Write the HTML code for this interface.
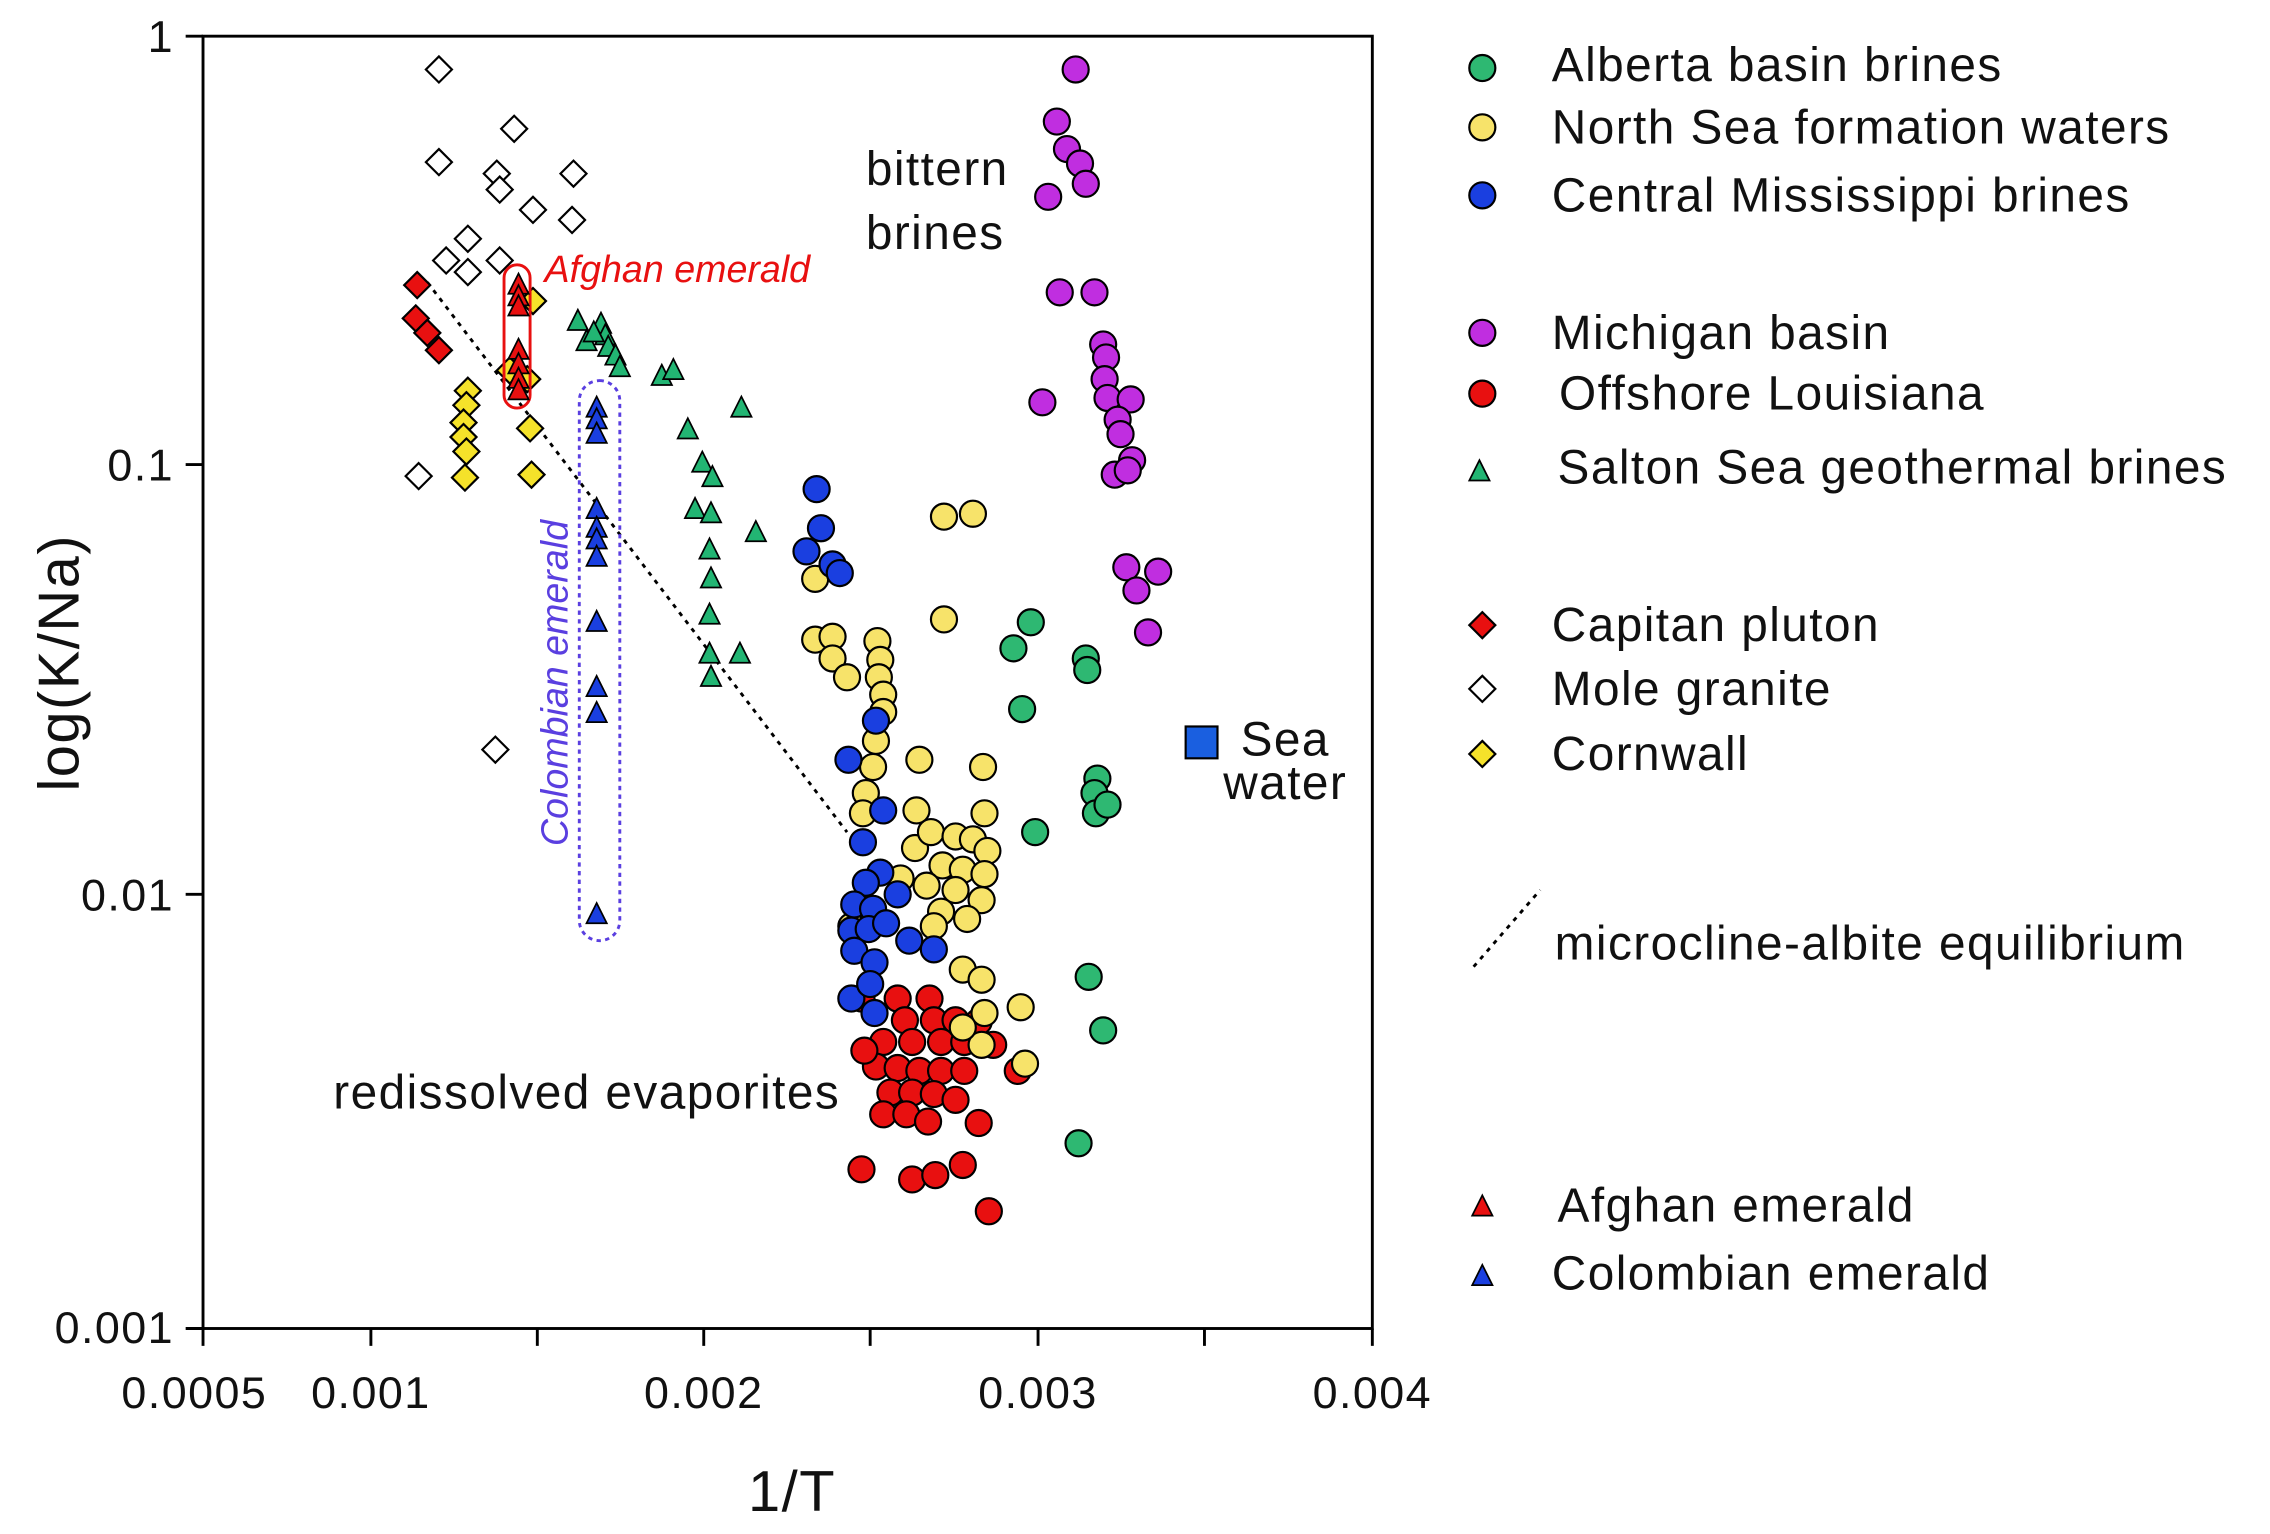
<!DOCTYPE html>
<html><head><meta charset="utf-8"><style>
html,body{margin:0;padding:0;background:#fff;}
svg{display:block;}
text{font-family:"Liberation Sans",sans-serif;fill:#111;letter-spacing:1px;}
</style></head><body>
<svg width="2270" height="1534" viewBox="0 0 1568 1060" xmlns="http://www.w3.org/2000/svg">
<defs>
<symbol id="c" overflow="visible"><circle r="9" stroke="#000" stroke-width="1.5"/></symbol>
</defs>
<rect x="140" y="25" width="808" height="893" fill="none" stroke="#000" stroke-width="2"/>
<g stroke="#000" stroke-width="2">
<line x1="140" y1="25" x2="128" y2="25"/><line x1="140" y1="321" x2="128" y2="321"/><line x1="140" y1="618" x2="128" y2="618"/><line x1="140" y1="918" x2="128" y2="918"/>
<line x1="140" y1="918" x2="140" y2="930"/><line x1="256" y1="918" x2="256" y2="930"/><line x1="371" y1="918" x2="371" y2="930"/><line x1="486" y1="918" x2="486" y2="930"/><line x1="601" y1="918" x2="601" y2="930"/><line x1="717" y1="918" x2="717" y2="930"/><line x1="832" y1="918" x2="832" y2="930"/><line x1="948" y1="918" x2="948" y2="930"/>
</g>
<g font-size="31" text-anchor="end">
<text x="120" y="36">1</text><text x="120" y="332">0.1</text><text x="120" y="629">0.01</text><text x="120" y="928">0.001</text>
</g>
<g font-size="31" text-anchor="middle">
<text x="134" y="973">0.0005</text><text x="256" y="973">0.001</text><text x="486" y="973">0.002</text><text x="717" y="973">0.003</text><text x="948" y="973">0.004</text>
</g>
<text x="547" y="1044" font-size="40" text-anchor="middle">1/T</text>
<text transform="translate(54,458) rotate(-90)" font-size="40" text-anchor="middle">log(K/Na)</text>

<line x1="295" y1="195" x2="585" y2="575" stroke="#000" stroke-width="2" stroke-dasharray="3,4"/>

<g fill="#fff" stroke="#000" stroke-width="1.5">
<path d="M0,-9 L9,0 L0,9 L-9,0Z" transform="translate(303,48)"/>
<path d="M0,-9 L9,0 L0,9 L-9,0Z" transform="translate(303,112)"/>
<path d="M0,-9 L9,0 L0,9 L-9,0Z" transform="translate(355,89)"/>
<path d="M0,-9 L9,0 L0,9 L-9,0Z" transform="translate(343,120)"/>
<path d="M0,-9 L9,0 L0,9 L-9,0Z" transform="translate(345,131)"/>
<path d="M0,-9 L9,0 L0,9 L-9,0Z" transform="translate(396,120)"/>
<path d="M0,-9 L9,0 L0,9 L-9,0Z" transform="translate(368,145)"/>
<path d="M0,-9 L9,0 L0,9 L-9,0Z" transform="translate(395,152)"/>
<path d="M0,-9 L9,0 L0,9 L-9,0Z" transform="translate(323,165)"/>
<path d="M0,-9 L9,0 L0,9 L-9,0Z" transform="translate(308,180)"/>
<path d="M0,-9 L9,0 L0,9 L-9,0Z" transform="translate(323,188)"/>
<path d="M0,-9 L9,0 L0,9 L-9,0Z" transform="translate(345,180)"/>
<path d="M0,-9 L9,0 L0,9 L-9,0Z" transform="translate(289,329)"/>
<path d="M0,-9 L9,0 L0,9 L-9,0Z" transform="translate(342,518)"/>
</g>
<g fill="#e81010" stroke="#000" stroke-width="1.5">
<path d="M0,-9 L9,0 L0,9 L-9,0Z" transform="translate(288,197)"/>
<path d="M0,-9 L9,0 L0,9 L-9,0Z" transform="translate(287,220)"/>
<path d="M0,-9 L9,0 L0,9 L-9,0Z" transform="translate(295,230)"/>
<path d="M0,-9 L9,0 L0,9 L-9,0Z" transform="translate(303,242)"/>
</g>
<g fill="#f5e22a" stroke="#000" stroke-width="1.5">
<path d="M0,-9 L9,0 L0,9 L-9,0Z" transform="translate(323,270)"/>
<path d="M0,-9 L9,0 L0,9 L-9,0Z" transform="translate(322,280)"/>
<path d="M0,-9 L9,0 L0,9 L-9,0Z" transform="translate(320,292)"/>
<path d="M0,-9 L9,0 L0,9 L-9,0Z" transform="translate(320,302)"/>
<path d="M0,-9 L9,0 L0,9 L-9,0Z" transform="translate(322,312)"/>
<path d="M0,-9 L9,0 L0,9 L-9,0Z" transform="translate(321,330)"/>
<path d="M0,-9 L9,0 L0,9 L-9,0Z" transform="translate(368,208)"/>
<path d="M0,-9 L9,0 L0,9 L-9,0Z" transform="translate(364,262)"/>
<path d="M0,-9 L9,0 L0,9 L-9,0Z" transform="translate(366,296)"/>
<path d="M0,-9 L9,0 L0,9 L-9,0Z" transform="translate(367,328)"/>
<path d="M0,-9 L9,0 L0,9 L-9,0Z" transform="translate(352,256)"/>
</g>
<rect x="348" y="183" width="18" height="99" rx="9" fill="none" stroke="#e81010" stroke-width="2"/>
<g fill="#e81010" stroke="#000" stroke-width="1.2">
<path d="M0,-8 L7,6 L-7,6Z" transform="translate(358,197)"/>
<path d="M0,-8 L7,6 L-7,6Z" transform="translate(358,205)"/>
<path d="M0,-8 L7,6 L-7,6Z" transform="translate(358,212)"/>
<path d="M0,-8 L7,6 L-7,6Z" transform="translate(358,242)"/>
<path d="M0,-8 L7,6 L-7,6Z" transform="translate(358,252)"/>
<path d="M0,-8 L7,6 L-7,6Z" transform="translate(358,262)"/>
<path d="M0,-8 L7,6 L-7,6Z" transform="translate(358,270)"/>
</g>
<text x="376" y="195" font-size="26" font-style="italic" style="fill:#e81010;letter-spacing:0">Afghan emerald</text>
<rect x="400" y="263" width="28" height="387" rx="14" fill="none" stroke="#5a3fe0" stroke-width="2" stroke-dasharray="3,3"/>
<text transform="translate(392,472) rotate(-90)" font-size="26" font-style="italic" text-anchor="middle" style="fill:#5a3fe0;letter-spacing:0">Colombian emerald</text>
<g fill="#1a3fe0" stroke="#000" stroke-width="1.2">
<path d="M0,-8 L7,6 L-7,6Z" transform="translate(412,282)"/>
<path d="M0,-8 L7,6 L-7,6Z" transform="translate(412,290)"/>
<path d="M0,-8 L7,6 L-7,6Z" transform="translate(412,300)"/>
<path d="M0,-8 L7,6 L-7,6Z" transform="translate(412,352)"/>
<path d="M0,-8 L7,6 L-7,6Z" transform="translate(412,365)"/>
<path d="M0,-8 L7,6 L-7,6Z" transform="translate(412,373)"/>
<path d="M0,-8 L7,6 L-7,6Z" transform="translate(412,385)"/>
<path d="M0,-8 L7,6 L-7,6Z" transform="translate(412,430)"/>
<path d="M0,-8 L7,6 L-7,6Z" transform="translate(412,475)"/>
<path d="M0,-8 L7,6 L-7,6Z" transform="translate(412,493)"/>
<path d="M0,-8 L7,6 L-7,6Z" transform="translate(412,632)"/>
</g>
<g fill="#22b573" stroke="#000" stroke-width="1.2">
<path d="M0,-8 L7,6 L-7,6Z" transform="translate(399,222)"/>
<path d="M0,-8 L7,6 L-7,6Z" transform="translate(405,236)"/>
<path d="M0,-8 L7,6 L-7,6Z" transform="translate(415,224)"/>
<path d="M0,-8 L7,6 L-7,6Z" transform="translate(418,232)"/>
<path d="M0,-8 L7,6 L-7,6Z" transform="translate(420,240)"/>
<path d="M0,-8 L7,6 L-7,6Z" transform="translate(425,246)"/>
<path d="M0,-8 L7,6 L-7,6Z" transform="translate(428,254)"/>
<path d="M0,-8 L7,6 L-7,6Z" transform="translate(410,230)"/>
<path d="M0,-8 L7,6 L-7,6Z" transform="translate(457,260)"/>
<path d="M0,-8 L7,6 L-7,6Z" transform="translate(465,256)"/>
<path d="M0,-8 L7,6 L-7,6Z" transform="translate(475,297)"/>
<path d="M0,-8 L7,6 L-7,6Z" transform="translate(485,320)"/>
<path d="M0,-8 L7,6 L-7,6Z" transform="translate(492,330)"/>
<path d="M0,-8 L7,6 L-7,6Z" transform="translate(480,352)"/>
<path d="M0,-8 L7,6 L-7,6Z" transform="translate(491,355)"/>
<path d="M0,-8 L7,6 L-7,6Z" transform="translate(490,380)"/>
<path d="M0,-8 L7,6 L-7,6Z" transform="translate(491,400)"/>
<path d="M0,-8 L7,6 L-7,6Z" transform="translate(490,425)"/>
<path d="M0,-8 L7,6 L-7,6Z" transform="translate(490,452)"/>
<path d="M0,-8 L7,6 L-7,6Z" transform="translate(491,468)"/>
<path d="M0,-8 L7,6 L-7,6Z" transform="translate(512,282)"/>
<path d="M0,-8 L7,6 L-7,6Z" transform="translate(522,368)"/>
<path d="M0,-8 L7,6 L-7,6Z" transform="translate(511,452)"/>
</g>
<g fill="#e81010">
<use href="#c" x="595" y="690"/><use href="#c" x="620" y="690"/><use href="#c" x="642" y="690"/>
<use href="#c" x="625" y="705"/><use href="#c" x="645" y="705"/><use href="#c" x="660" y="705"/><use href="#c" x="676" y="706"/>
<use href="#c" x="610" y="720"/><use href="#c" x="630" y="720"/><use href="#c" x="650" y="720"/><use href="#c" x="666" y="720"/><use href="#c" x="686" y="722"/>
<use href="#c" x="605" y="737"/><use href="#c" x="620" y="738"/><use href="#c" x="635" y="740"/><use href="#c" x="650" y="740"/><use href="#c" x="666" y="740"/>
<use href="#c" x="615" y="755"/><use href="#c" x="630" y="755"/><use href="#c" x="645" y="756"/><use href="#c" x="660" y="760"/>
<use href="#c" x="610" y="770"/><use href="#c" x="626" y="770"/><use href="#c" x="641" y="775"/><use href="#c" x="676" y="776"/>
<use href="#c" x="703" y="740"/><use href="#c" x="595" y="808"/><use href="#c" x="630" y="815"/><use href="#c" x="646" y="812"/><use href="#c" x="665" y="805"/><use href="#c" x="683" y="837"/><use href="#c" x="597" y="726"/>
</g>
<g fill="#f7e36a">
<use href="#c" x="652" y="357"/><use href="#c" x="672" y="355"/><use href="#c" x="652" y="428"/><use href="#c" x="563" y="400"/>
<use href="#c" x="563" y="442"/><use href="#c" x="575" y="440"/><use href="#c" x="575" y="455"/><use href="#c" x="585" y="468"/><use href="#c" x="606" y="443"/>
<use href="#c" x="608" y="456"/><use href="#c" x="607" y="468"/><use href="#c" x="610" y="480"/><use href="#c" x="610" y="492"/>
<use href="#c" x="605" y="512"/><use href="#c" x="603" y="530"/><use href="#c" x="598" y="548"/><use href="#c" x="596" y="562"/>
<use href="#c" x="635" y="525"/><use href="#c" x="679" y="530"/><use href="#c" x="680" y="562"/><use href="#c" x="633" y="560"/>
<use href="#c" x="632" y="586"/><use href="#c" x="643" y="575"/><use href="#c" x="660" y="578"/><use href="#c" x="672" y="580"/><use href="#c" x="682" y="588"/>
<use href="#c" x="651" y="598"/><use href="#c" x="665" y="601"/><use href="#c" x="680" y="604"/><use href="#c" x="622" y="607"/>
<use href="#c" x="640" y="612"/><use href="#c" x="660" y="615"/><use href="#c" x="678" y="622"/><use href="#c" x="650" y="630"/>
<use href="#c" x="668" y="635"/><use href="#c" x="645" y="640"/><use href="#c" x="588" y="640"/><use href="#c" x="665" y="670"/><use href="#c" x="678" y="677"/>
<use href="#c" x="680" y="700"/><use href="#c" x="705" y="696"/><use href="#c" x="708" y="735"/><use href="#c" x="678" y="722"/><use href="#c" x="665" y="710"/>
</g>
<g fill="#1a3fe0">
<use href="#c" x="564" y="338"/><use href="#c" x="567" y="365"/><use href="#c" x="557" y="381"/><use href="#c" x="575" y="390"/><use href="#c" x="580" y="396"/>
<use href="#c" x="586" y="525"/><use href="#c" x="605" y="498"/><use href="#c" x="610" y="560"/><use href="#c" x="596" y="582"/>
<use href="#c" x="608" y="603"/><use href="#c" x="598" y="610"/><use href="#c" x="590" y="625"/><use href="#c" x="603" y="628"/>
<use href="#c" x="588" y="643"/><use href="#c" x="600" y="642"/><use href="#c" x="612" y="638"/><use href="#c" x="590" y="657"/><use href="#c" x="604" y="665"/>
<use href="#c" x="588" y="690"/><use href="#c" x="601" y="680"/><use href="#c" x="620" y="618"/><use href="#c" x="628" y="650"/><use href="#c" x="645" y="656"/><use href="#c" x="604" y="700"/>
</g>
<g fill="#2eb872">
<use href="#c" x="712" y="430"/><use href="#c" x="700" y="448"/><use href="#c" x="706" y="490"/><use href="#c" x="715" y="575"/>
<use href="#c" x="750" y="455"/><use href="#c" x="751" y="463"/><use href="#c" x="758" y="538"/><use href="#c" x="756" y="548"/><use href="#c" x="757" y="562"/><use href="#c" x="765" y="556"/>
<use href="#c" x="752" y="675"/><use href="#c" x="762" y="712"/><use href="#c" x="745" y="790"/>
</g>
<g fill="#c02ee0">
<use href="#c" x="743" y="48"/><use href="#c" x="730" y="84"/><use href="#c" x="737" y="103"/><use href="#c" x="746" y="113"/><use href="#c" x="750" y="127"/><use href="#c" x="724" y="136"/>
<use href="#c" x="732" y="202"/><use href="#c" x="756" y="202"/><use href="#c" x="762" y="238"/><use href="#c" x="764" y="247"/><use href="#c" x="763" y="262"/><use href="#c" x="765" y="275"/>
<use href="#c" x="720" y="278"/><use href="#c" x="781" y="276"/><use href="#c" x="772" y="290"/><use href="#c" x="774" y="300"/><use href="#c" x="770" y="328"/><use href="#c" x="782" y="318"/><use href="#c" x="779" y="325"/>
<use href="#c" x="778" y="392"/><use href="#c" x="800" y="395"/><use href="#c" x="785" y="408"/><use href="#c" x="793" y="437"/>
</g>
<rect x="819" y="502" width="22" height="22" fill="#1a5fe0" stroke="#000" stroke-width="1.5"/>
<text x="857" y="522" font-size="33">Sea</text>
<text x="845" y="552" font-size="33">water</text>
<text x="598" y="128" font-size="33">bittern</text>
<text x="598" y="172" font-size="33">brines</text>
<text x="230" y="766" font-size="33">redissolved evaporites</text>

<g font-size="33">
<circle cx="1024" cy="47" r="9" fill="#2eb872" stroke="#000" stroke-width="1.5"/><text x="1072" y="56">Alberta basin brines</text>
<circle cx="1024" cy="88" r="9" fill="#f7e36a" stroke="#000" stroke-width="1.5"/><text x="1072" y="99">North Sea formation waters</text>
<circle cx="1024" cy="135" r="9" fill="#1a3fe0" stroke="#000" stroke-width="1.5"/><text x="1072" y="146">Central Mississippi brines</text>
<circle cx="1024" cy="230" r="9" fill="#c02ee0" stroke="#000" stroke-width="1.5"/><text x="1072" y="241">Michigan basin</text>
<circle cx="1024" cy="272" r="9" fill="#e81010" stroke="#000" stroke-width="1.5"/><text x="1077" y="283">Offshore Louisiana</text>
<path d="M0,-8 L7,6 L-7,6Z" transform="translate(1022,326)" fill="#22b573" stroke="#000" stroke-width="1.2"/><text x="1076" y="334">Salton Sea geothermal brines</text>
<path d="M0,-9 L9,0 L0,9 L-9,0Z" transform="translate(1024,432)" fill="#e81010" stroke="#000" stroke-width="1.5"/><text x="1072" y="443">Capitan pluton</text>
<path d="M0,-9 L9,0 L0,9 L-9,0Z" transform="translate(1024,476)" fill="#fff" stroke="#000" stroke-width="1.5"/><text x="1072" y="487">Mole granite</text>
<path d="M0,-9 L9,0 L0,9 L-9,0Z" transform="translate(1024,521)" fill="#f5e22a" stroke="#000" stroke-width="1.5"/><text x="1072" y="532">Cornwall</text>
<line x1="1018" y1="668" x2="1064" y2="615" stroke="#000" stroke-width="2" stroke-dasharray="3,4"/><text x="1074" y="663">microcline-albite equilibrium</text>
<path d="M0,-8 L7,6 L-7,6Z" transform="translate(1024,834)" fill="#e81010" stroke="#000" stroke-width="1.2"/><text x="1076" y="844">Afghan emerald</text>
<path d="M0,-8 L7,6 L-7,6Z" transform="translate(1024,882)" fill="#1a3fe0" stroke="#000" stroke-width="1.2"/><text x="1072" y="891">Colombian emerald</text>
</g>
</svg>
</body></html>
